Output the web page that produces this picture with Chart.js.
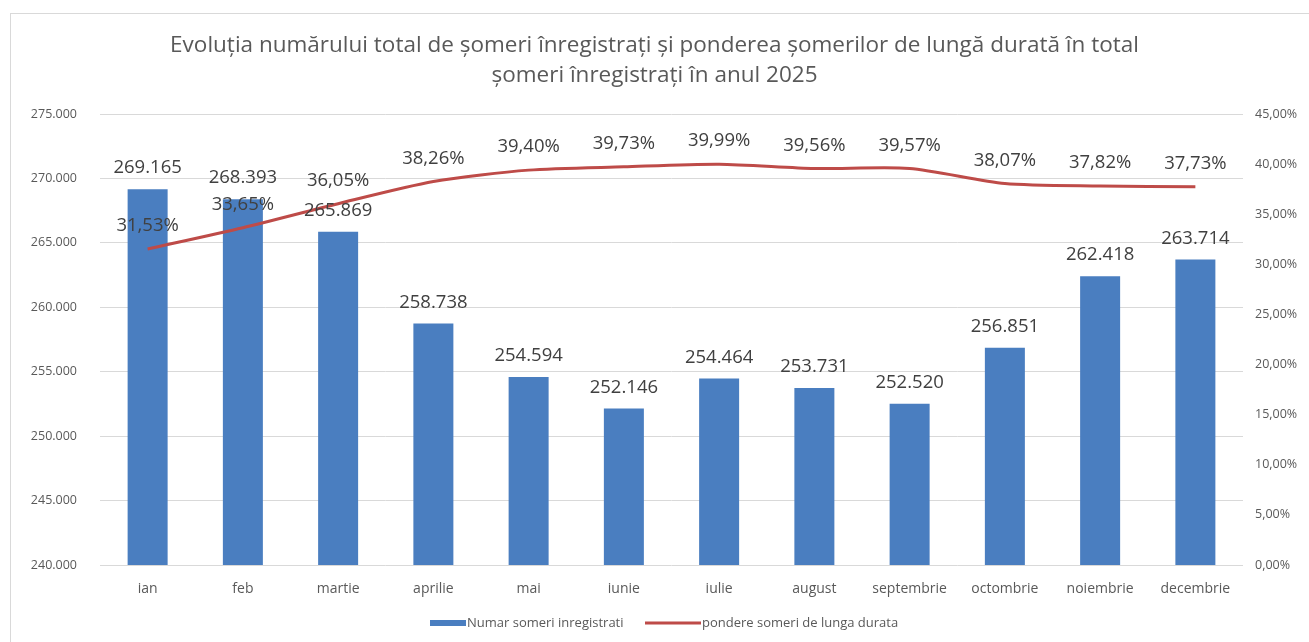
<!DOCTYPE html>
<html>
<head>
<meta charset="utf-8">
<script src="https://cdn.jsdelivr.net/npm/chart.js@4.4.1/dist/chart.umd.min.js"></script>
<style>
  html, body { margin: 0; padding: 0; background: #fff; }
  #wrap { position: relative; width: 1309px; height: 642px; overflow: hidden; }
  #frame { position: absolute; left: 10px; top: 13px; width: 1320px; height: 640px; border: 1px solid #d9d9d9; box-sizing: border-box; }
  canvas { position: absolute; left: 0; top: 0; }
</style>
</head>
<body>
<div id="wrap">
  <div id="frame"></div>
  <canvas id="c" width="1309" height="642"></canvas>
</div>
<script>
const categories = ['ian', 'feb', 'martie', 'aprilie', 'mai', 'iunie', 'iulie', 'august', 'septembrie', 'octombrie', 'noiembrie', 'decembrie'];
const someriInregistrati = [269165, 268393, 265869, 258738, 254594, 252146, 254464, 253731, 252520, 256851, 262418, 263714];
const pondereLungaDurata = [31.53, 33.65, 36.05, 38.26, 39.40, 39.73, 39.99, 39.56, 39.57, 38.07, 37.82, 37.73];
const titleLines = ['Evoluția numărului total de șomeri înregistrați și ponderea șomerilor de lungă durată în total', 'șomeri înregistrați în anul 2025'];
const seriesNames = ['Numar someri inregistrati', 'pondere someri de lunga durata'];

const BLUE = '#4a7ec0';
const RED = '#be4b48';
const FONT = "'Open Sans', 'Noto Sans', sans-serif";

function fmtThousands(v) {
  return String(Math.round(v)).replace(/\B(?=(\d{3})+(?!\d))/g, '.');
}
function fmtPct(v) {
  return v.toFixed(2).replace('.', ',') + '%';
}

const labelsPlugin = {
  id: 'valueLabels',
  afterDatasetsDraw(chart) {
    const ctx = chart.ctx;
    ctx.save();
    ctx.font = '18.5px ' + FONT;
    ctx.fillStyle = '#404040';
    ctx.textAlign = 'center';
    ctx.textBaseline = 'middle';
    const barMeta = chart.getDatasetMeta(0);
    barMeta.data.forEach((el, i) => {
      ctx.fillText(fmtThousands(someriInregistrati[i]), el.x, el.y - 21);
    });
    const lineMeta = chart.getDatasetMeta(1);
    lineMeta.data.forEach((el, i) => {
      ctx.fillText(fmtPct(pondereLungaDurata[i]), el.x, el.y - 23);
    });
    ctx.restore();
  }
};

const legendPlugin = {
  id: 'customLegend',
  afterDraw(chart) {
    const ctx = chart.ctx;
    ctx.save();
    const y = 623;
    ctx.fillStyle = BLUE;
    ctx.fillRect(430, y - 3, 36, 6);
    ctx.strokeStyle = RED;
    ctx.lineWidth = 3;
    ctx.beginPath();
    ctx.moveTo(645, y);
    ctx.lineTo(701, y);
    ctx.stroke();
    ctx.fillStyle = '#595959';
    ctx.font = '13px ' + FONT;
    ctx.textAlign = 'left';
    ctx.textBaseline = 'middle';
    ctx.fillText(seriesNames[0], 467, y);
    ctx.fillText(seriesNames[1], 702, y);
    ctx.restore();
  }
};

new Chart(document.getElementById('c'), {
  data: {
    labels: categories,
    datasets: [
      {
        type: 'bar',
        label: seriesNames[0],
        data: someriInregistrati,
        backgroundColor: BLUE,
        yAxisID: 'y',
        categoryPercentage: 1,
        barPercentage: 0.42,
        order: 2
      },
      {
        type: 'line',
        label: seriesNames[1],
        data: pondereLungaDurata,
        borderColor: RED,
        backgroundColor: RED,
        borderWidth: 3,
        pointRadius: 0,
        tension: 0.25,
        yAxisID: 'y1',
        order: 1
      }
    ]
  },
  options: {
    responsive: false,
    animation: false,
    layout: { padding: { top: 0, left: 0, right: 0, bottom: 29 } },
    plugins: {
      legend: { display: false },
      tooltip: { enabled: false },
      title: {
        display: true,
        text: titleLines,
        color: '#595959',
        font: { family: FONT, size: 22.5, weight: 'normal', lineHeight: 30 / 22.5 },
        padding: { top: 31, bottom: 23 }
      }
    },
    scales: {
      x: {
        grid: { display: false, drawTicks: false },
        border: { display: false },
        ticks: { color: '#595959', font: { family: FONT, size: 14 }, padding: 15.6, maxRotation: 0 }
      },
      y: {
        position: 'left',
        min: 240000,
        max: 275000,
        afterFit(scale) { scale.width = 100; },
        afterBuildTicks(scale) {
          scale.ticks = [];
          for (let v = 240000; v <= 275000; v += 5000) scale.ticks.push({ value: v });
        },
        grid: { color: '#d9d9d9', drawTicks: false, lineWidth: 1 },
        border: { display: false },
        ticks: { color: '#595959', font: { family: FONT, size: 12.5 }, padding: 23, callback: v => fmtThousands(v) }
      },
      y1: {
        position: 'right',
        min: 0,
        max: 45,
        afterFit(scale) { scale.width = 66; },
        afterBuildTicks(scale) {
          scale.ticks = [];
          for (let v = 0; v <= 45; v += 5) scale.ticks.push({ value: v });
        },
        grid: { display: false, drawTicks: false },
        border: { display: false },
        ticks: { color: '#595959', font: { family: FONT, size: 12.5 }, padding: 12, callback: v => fmtPct(v) }
      }
    }
  },
  plugins: [labelsPlugin, legendPlugin]
});
</script>
</body>
</html>
